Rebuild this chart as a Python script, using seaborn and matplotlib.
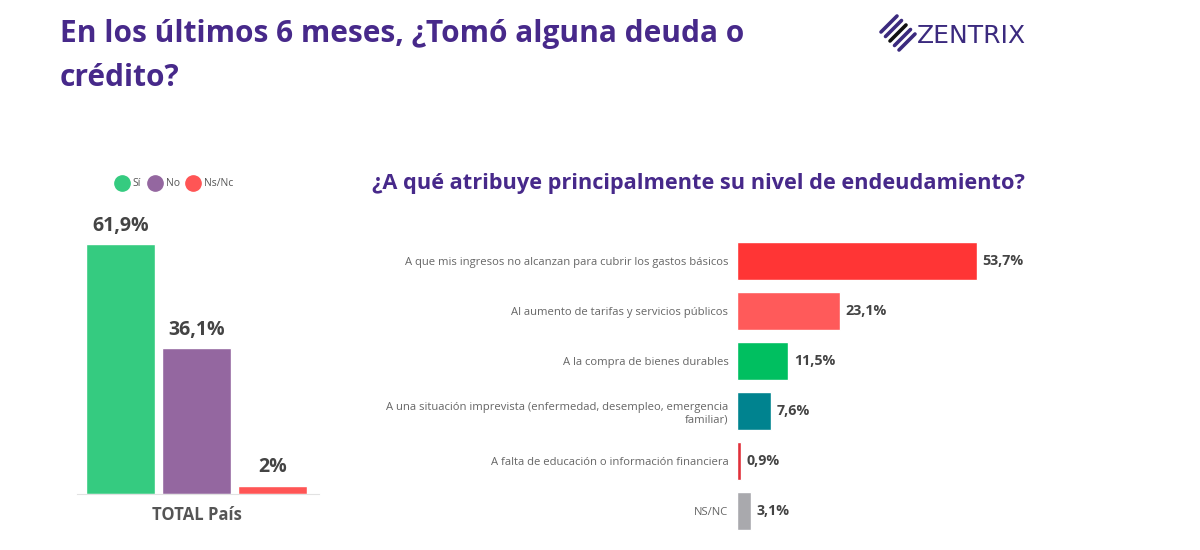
import matplotlib
matplotlib.use("Agg")
import matplotlib.pyplot as plt
from matplotlib.lines import Line2D
import seaborn as sns

# ----------------------------
# Datos
# ----------------------------
grupo = "TOTAL País"
respuestas = ["Sí", "No", "Ns/Nc"]
valores_resp = [61.9, 36.1, 2.0]
etiquetas_resp = ["61,9%", "36,1%", "2%"]
colores_resp = ["#35CB80", "#9467A0", "#FF5555"]

razones = [
    "A que mis ingresos no alcanzan para cubrir los gastos básicos",
    "Al aumento de tarifas y servicios públicos",
    "A la compra de bienes durables",
    "A una situación imprevista (enfermedad, desempleo, emergencia\nfamiliar)",
    "A falta de educación o información financiera",
    "NS/NC",
]
valores_razon = [53.7, 23.1, 11.5, 7.6, 0.9, 3.1]
etiquetas_razon = ["53,7%", "23,1%", "11,5%", "7,6%", "0,9%", "3,1%"]
colores_razon = ["#FF3535", "#FF5A5A", "#00BF60", "#00838F", "#E0303A", "#A9A9AD"]

morado = "#47298A"
gris_txt = "#444444"

sns.set_style("white")
plt.rcParams["font.family"] = ["Open Sans", "DejaVu Sans"]

W, H = 1200, 550
fig = plt.figure(figsize=(12, 5.5), dpi=100)

# ----------------------------
# Títulos y logo
# ----------------------------
fig.text(0.05, 0.965, "En los últimos 6 meses, ¿Tomó alguna deuda o\ncrédito?",
         ha="left", va="top", fontsize=21.5, fontweight="bold", color=morado,
         linespacing=1.6)
fig.text(0.31, 0.667, "¿A qué atribuye principalmente su nivel de endeudamiento?",
         ha="left", va="center", fontsize=15.7, fontweight="bold", color=morado)
fig.text(917 / W, 1 - 36 / H, "ZENTRIX", ha="left", va="center", fontsize=18,
         family="DejaVu Sans", color="#3B2A7E")
# icono: franjas diagonales
cx, cy = 898, 33
for k, c in zip([-2, -1, 0, 1, 2], ["#3B2A7E", "#3B2A7E", "#111111", "#3B2A7E", "#3B2A7E"]):
    ox, oy = cx + k * 4.5, cy + k * 4.5
    x0, y0 = ox - 8, oy + 8
    x1, y1 = ox + 8, oy - 8
    fig.add_artist(Line2D([x0 / W, x1 / W], [1 - y0 / H, 1 - y1 / H],
                          color=c, lw=2.6, solid_capstyle="round"))

# ----------------------------
# Gráfico izquierdo
# ----------------------------
ax1 = fig.add_axes([0.0454, 0.102, 0.237, 0.534])
sns.barplot(x=[grupo] * len(respuestas), y=valores_resp, hue=respuestas,
            palette=colores_resp, saturation=1, gap=0.087, ax=ax1, legend=False)
for cont, lab in zip(ax1.containers, etiquetas_resp):
    ax1.bar_label(cont, labels=[lab], padding=6, fontsize=14,
                  fontweight="bold", color=gris_txt)
ax1.set_ylim(0, 72.8)
ax1.set_xlim(-0.5, 0.5)
ax1.set_yticks([])
ax1.set_ylabel("")
for s in ["left", "right", "top"]:
    ax1.spines[s].set_visible(False)
ax1.spines["bottom"].set_color("#E2E2E2")
ax1.spines["bottom"].set_bounds(-0.42, 0.43)
ax1.tick_params(axis="x", length=5, color="#DDDDDD", labelsize=12,
                labelcolor="#555555")
for t in ax1.get_xticklabels():
    t.set_fontweight("bold")

handles = [Line2D([], [], marker="o", ls="", markersize=11,
                  markerfacecolor=c, markeredgecolor=c) for c in colores_resp]
ax1.legend(handles, respuestas, loc="lower center", bbox_to_anchor=(0.415, 1.005),
           ncol=3, frameon=False, fontsize=7.5, handletextpad=0.05,
           columnspacing=0.3, labelcolor="#555555")

# ----------------------------
# Gráfico derecho
# ----------------------------
ax2 = fig.add_axes([0.614, 0.0255, 0.298, 0.545])
sns.barplot(x=valores_razon, y=razones, hue=razones, palette=colores_razon,
            saturation=1, orient="h", width=0.76, ax=ax2, legend=False)
for cont, lab in zip(ax2.containers, etiquetas_razon):
    ax2.bar_label(cont, labels=[lab], padding=4, fontsize=10.3,
                  fontweight="bold", color=gris_txt)
ax2.set_xlim(0, 80)
ax2.set_xticks([])
ax2.set_xlabel("")
ax2.set_ylabel("")
sns.despine(ax=ax2, left=True, bottom=True)
ax2.tick_params(axis="y", length=0, pad=6, labelsize=8.1, labelcolor="#666666")

plt.savefig("out.png", dpi=100)
plt.close()
